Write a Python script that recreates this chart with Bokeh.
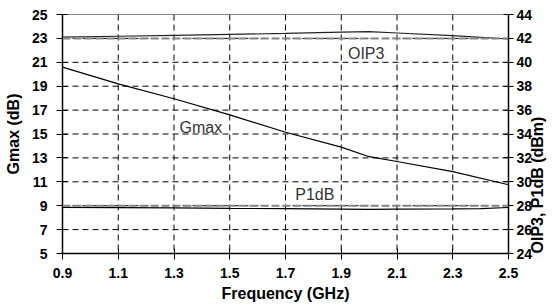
import math
from bokeh.plotting import figure
from bokeh.models import LinearAxis, Range1d, FixedTicker, Span, Label
from bokeh.embed import file_html
from bokeh.resources import INLINE

# ---- data ----
freq_gmax = [0.9, 1.1, 1.3, 1.5, 1.7, 1.9, 2.0, 2.1, 2.3, 2.5]
gmax = [20.6, 19.2, 17.95, 16.6, 15.15, 13.9, 13.1, 12.7, 11.85, 10.75]

freq_oip3 = [0.9, 1.1, 1.3, 1.5, 1.7, 1.9, 2.0, 2.1, 2.3, 2.5]
oip3 = [42.1, 42.18, 42.25, 42.33, 42.42, 42.52, 42.56, 42.45, 42.23, 41.95]

freq_p1db = [0.9, 1.1, 1.3, 1.5, 1.7, 1.9, 2.0, 2.1, 2.3, 2.4, 2.5]
p1db = [27.86, 27.84, 27.82, 27.78, 27.75, 27.72, 27.7, 27.71, 27.73, 27.76, 27.85]

x_ticks = [0.9, 1.1, 1.3, 1.5, 1.7, 1.9, 2.1, 2.3, 2.5]
left_ticks = [5, 7, 9, 11, 13, 15, 17, 19, 21, 23, 25]
right_ticks = [24, 26, 28, 30, 32, 34, 36, 38, 40, 42, 44]

FONT = "Liberation Sans"

p = figure(width=557, height=307, output_backend="svg", toolbar_location=None,
           x_range=Range1d(0.9, 2.5), y_range=Range1d(5, 25),
           min_border_left=62, min_border_right=45, min_border_top=14, min_border_bottom=54)
p.extra_y_ranges = {"right": Range1d(24, 44)}

p.outline_line_color = "#888888"
p.outline_line_width = 1
p.xgrid.visible = False
p.ygrid.visible = False

def style_axis(ax):
    ax.axis_line_color = "black"
    ax.axis_line_width = 1.5
    ax.major_tick_line_color = "black"
    ax.major_tick_in = 5
    ax.major_tick_out = 6
    ax.minor_tick_line_color = None
    ax.major_label_text_font = FONT
    ax.major_label_text_font_style = "bold"
    ax.major_label_text_font_size = "14px"
    ax.major_label_text_color = "black"
    ax.axis_label_text_font = FONT
    ax.axis_label_text_font_style = "bold"
    ax.axis_label_text_font_size = "16px"
    ax.axis_label_text_color = "black"

xa = p.xaxis[0]
xa.ticker = FixedTicker(ticks=x_ticks)
xa.axis_label = "Frequency (GHz)"
style_axis(xa)
xa.major_label_standoff = 8
xa.axis_label_standoff = 4

ya = p.yaxis[0]
ya.ticker = FixedTicker(ticks=left_ticks)
ya.axis_label = "Gmax (dB)"
style_axis(ya)
ya.major_label_standoff = 9
ya.axis_label_standoff = 7

ra = LinearAxis(y_range_name="right", ticker=FixedTicker(ticks=right_ticks),
                axis_label="OIP3, P1dB (dBm)")
style_axis(ra)
ra.major_tick_out = 5
ra.major_label_standoff = 3
ra.axis_label_standoff = 2
ra.axis_label_orientation = math.pi / 2
ra.axis_label_align = "start"
p.add_layout(ra, "right")

# dashed grid
for t in x_ticks[1:-1]:
    p.add_layout(Span(location=t, dimension="height", line_color="black",
                      line_width=1, line_dash="6 4", level="underlay"))
for t in left_ticks[1:-1]:
    p.add_layout(Span(location=t, dimension="width", line_color="black",
                      line_width=1, line_dash="6 4", level="underlay"))

# gray dashed reference lines
for v in (23, 9):
    p.add_layout(Span(location=v, dimension="width", line_color="#888888",
                      line_width=2, line_dash="8 3"))

p.line(freq_gmax, gmax, line_color="black", line_width=1.2)
p.line(freq_oip3, oip3, line_color="#222222", line_width=1.2, y_range_name="right")
p.line(freq_p1db, p1db, line_color="black", line_width=1.2, y_range_name="right")

for txt, x, y in (("OIP3", 1.924, 21.7), ("Gmax", 1.32, 15.57), ("P1dB", 1.735, 9.94)):
    p.add_layout(Label(x=x, y=y, text=txt, text_font=FONT, text_font_size="16px",
                       text_color="#333333", text_baseline="middle", text_align="left"))

open("out.html", "w").write(file_html(p, INLINE))
